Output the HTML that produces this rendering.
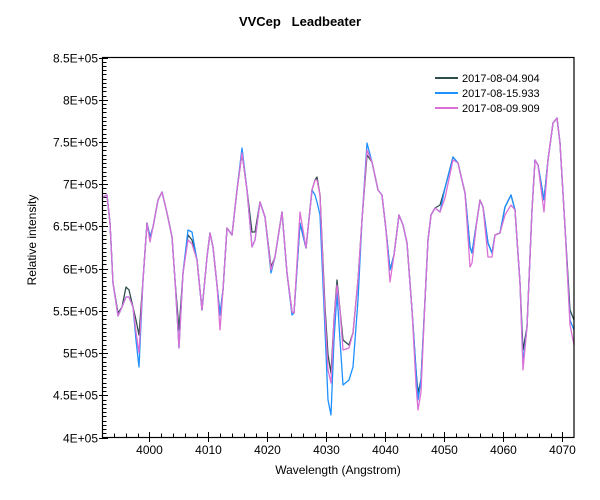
<!DOCTYPE html>
<html><head><meta charset="utf-8"><style>
html,body{margin:0;padding:0;background:#fff;}
svg{display:block;font-family:"Liberation Sans",sans-serif;}
</style></head><body>
<svg width="600" height="500" viewBox="0 0 600 500" xmlns="http://www.w3.org/2000/svg">
<rect width="600" height="500" fill="#fff"/>
<text x="300" y="26" text-anchor="middle" font-size="13" font-weight="bold" xml:space="preserve">VVCep   Leadbeater</text>
<g id="ticks" stroke="#000" stroke-width="1"></g>
<g id="lbl" font-size="12" fill="#000"></g>
<polyline id="pb" fill="none" stroke="#2f4f4f" stroke-width="1.3" stroke-linejoin="round"/>
<polyline id="pu" fill="none" stroke="#1e90ff" stroke-width="1.3" stroke-linejoin="round"/>
<polyline id="pp" fill="none" stroke="#da70d6" stroke-width="1.3" stroke-linejoin="round"/>
<rect x="102.5" y="57.5" width="471.5" height="380" fill="none" stroke="#000" stroke-width="1.2"/>
<text x="36" y="240" text-anchor="middle" font-size="12" transform="rotate(-90 36 240)">Relative intensity</text>
<text x="338" y="474" text-anchor="middle" font-size="12">Wavelength (Angstrom)</text>
<g font-size="11">
<line x1="435" y1="78" x2="458" y2="78" stroke="#2f4f4f" stroke-width="2"/>
<text x="462" y="82">2017-08-04.904</text>
<line x1="435" y1="93" x2="458" y2="93" stroke="#1e90ff" stroke-width="2"/>
<text x="462" y="97">2017-08-15.933</text>
<line x1="435" y1="108" x2="458" y2="108" stroke="#da70d6" stroke-width="2"/>
<text x="462" y="112">2017-08-09.909</text>
</g>
<script>
var NS="http://www.w3.org/2000/svg";
var t=document.getElementById('ticks'),l=document.getElementById('lbl');
function ln(a,b,c,d){var e=document.createElementNS(NS,'line');e.setAttribute('x1',a);e.setAttribute('y1',b);e.setAttribute('x2',c);e.setAttribute('y2',d);t.appendChild(e);}
function tx(x,y,s,anc){var e=document.createElementNS(NS,'text');e.setAttribute('x',x);e.setAttribute('y',y);e.setAttribute('text-anchor',anc);e.textContent=s;l.appendChild(e);}
var ylab=["4E+05","4.5E+05","5E+05","5.5E+05","6E+05","6.5E+05","7E+05","7.5E+05","8E+05","8.5E+05"];
for(var i=0;i<=90;i++){var y=437.5-i*380/90;y=Math.round(y)+0.5;
 if(i%10==0){ln(99,y,108,y);tx(98,y+4,ylab[i/10],'end');}else ln(102.5,y,106.5,y);}
for(var w=3994;w<=4070;w+=2){var x=149.3+(w-4000)*5.9;x=Math.round(x)+0.5;
 if(w%10==0){ln(x,432,x,442);tx(x,454,String(w),'middle');}else ln(x,433.5,x,437.5);}
var B=[[103,197],[107,195],[110,223],[113,283],[118,313],[122,307],[126,287],[129,290],[133,307],[136,320],[139,335],[143,280],[147,223],[150,237],[153,227],[158,200],[162,192],[167,213],[172,237],[175,280],[179,330],[183,273],[188,235],[192,240],[197,260],[202,310],[207,257],[210,233],[213,247],[217,285],[220,315],[223,290],[227,228],[232,235],[237,190],[242,153],[247,190],[252,232],[255,232],[260,202],[265,217],[271,267],[275,257],[282,212],[287,273],[292,312],[294,313],[300,223],[306,248],[312,190],[315,180],[317,177],[320,195],[325,307],[328,355],[331,373],[334,320],[337,280],[340,310],[343,340],[349,345],[353,333],[358,280],[362,220],[367,155],[372,162],[378,190],[382,195],[386,230],[390,270],[394,255],[399,215],[403,225],[407,243],[412,310],[416,370],[418,393],[421,380],[425,300],[428,240],[431,215],[435,208],[440,205],[445,188],[453,157],[458,163],[465,193],[470,247],[472,253],[477,220],[480,200],[483,207],[488,243],[492,253],[495,235],[500,233],[505,207],[511,195],[515,210],[520,283],[523,350],[527,327],[532,210],[535,160],[538,165],[544,200],[548,160],[553,123],[557,118],[560,143],[565,227],[570,310],[574,320]];
function mod(src,over){var m={};over.forEach(function(p){m[p[0]]=p[1];});return src.map(function(p){return [p[0],m[p[0]]!==undefined?m[p[0]]:p[1]];});}
var U=mod(B,[[118,316],[126,297],[129,297],[136,340],[139,367],[179,348],[188,230],[192,232],[242,148],[252,247],[255,240],[271,273],[292,315],[313,193],[315,195],[317,202],[320,215],[325,330],[328,400],[331,415],[334,340],[337,293],[340,340],[343,385],[349,380],[353,367],[358,300],[367,143],[418,400],[440,212],[523,363],[570,320],[574,330]]);
var P=mod(B,[[118,316],[126,297],[129,297],[136,332],[139,353],[179,348],[188,240],[192,244],[150,242],[220,330],[252,247],[255,240],[271,270],[300,212],[313,186],[317,180],[325,315],[328,370],[331,383],[337,285],[343,350],[349,348],[367,150],[390,282],[416,385],[418,410],[421,392],[440,212],[445,198],[453,160],[470,267],[472,263],[488,257],[492,257],[505,215],[511,205],[523,370],[544,212],[570,325],[574,345]]);
function pts(a){return a.map(function(p){return p[0]+','+p[1];}).join(' ');}
document.getElementById('pb').setAttribute('points',pts(B));
document.getElementById('pu').setAttribute('points',pts(U));
document.getElementById('pp').setAttribute('points',pts(P));
</script>
</svg>
</body></html>
